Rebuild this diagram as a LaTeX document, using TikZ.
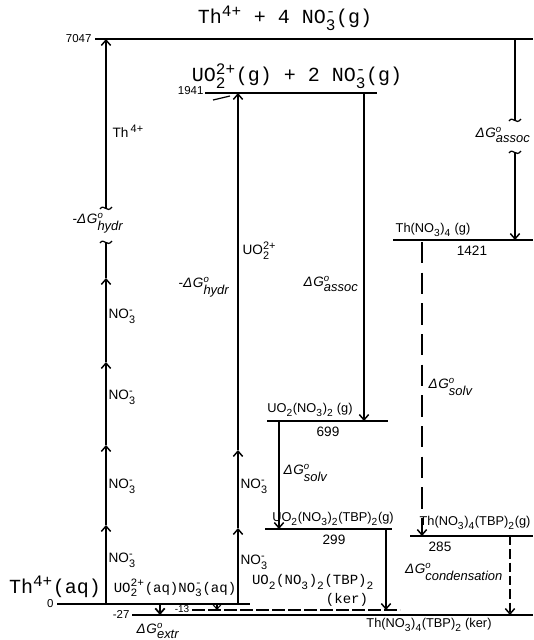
\documentclass[tikz,border=0pt]{standalone}
\usepackage{amsmath}
\usepackage{fontspec}
\setmainfont{Liberation Sans}
\newfontfamily\tw{Liberation Mono}
\renewcommand{\defaultscriptratio}{.8}
\renewcommand{\defaultscriptscriptratio}{.6}
\usetikzlibrary{arrows.meta}
\newcommand{\sbsp}[2]{\ensuremath{_{\text{#1}}^{\text{#2}}}}
\newcommand{\dG}[1]{{\itshape Δ\kern0.5pt G\ensuremath{^{\text{\fontsize{7.2}{8}\selectfont o}}_{\text{\fontsize{9.7}{11}\selectfont\itshape #1}}}}}
\tikzset{
  squig/.pic={\draw[line width=0.9pt] (-6,1) .. controls (-2,-5) and (1,6) .. (6,-1);}
}
\begin{document}
\begin{tikzpicture}[x=0.75pt,y=-0.75pt,
  lvl/.style={line width=1.35pt},
  ln/.style={line width=1.1pt},
  arr/.style={line width=1.1pt,-{Straight Barb[length=4pt,width=7pt]}},
  hw/.style={font=\fontsize{10.2}{12}\selectfont, inner sep=1pt},
  hws/.style={font=\fontsize{9.6}{11}\selectfont, inner sep=1pt},
  num/.style={font=\fontsize{8.6}{10}\selectfont, inner sep=1pt},
  ttbig/.style={font=\tw\fontsize{15}{17}\selectfont, inner sep=0pt},
  ttsmall/.style={font=\tw\fontsize{10.5}{12}\selectfont, inner sep=0pt}]
\useasboundingbox (0,0) rectangle (533,640);

% ---- level coordinates ----
\coordinate (T0) at (95,39);   \coordinate (T1) at (533,39);
\coordinate (U0) at (205,93);  \coordinate (U1) at (377,93);
\coordinate (A0) at (393,240); \coordinate (A1) at (533,240);
\coordinate (B0) at (267,421); \coordinate (B1) at (388,421);
\coordinate (C0) at (265,529); \coordinate (C1) at (392,529);
\coordinate (D0) at (410,536); \coordinate (D1) at (533,536);
\coordinate (Z0) at (57,604);  \coordinate (Z1) at (250,604);
\coordinate (M0) at (192,610); \coordinate (M1) at (400,610);
\coordinate (K0) at (132,615); \coordinate (K1) at (533,615);

\draw[lvl] (T0) -- (T1);
\draw[lvl] (U0) -- (U1);
\draw[lvl] (A0) -- (A1);
\draw[lvl] (B0) -- (B1);
\draw[lvl] (C0) -- (C1);
\draw[lvl] (D0) -- (D1);
\draw[lvl] (Z0) -- (Z1);
\draw[lvl] (K0) -- (K1);
\draw[line width=0.9pt, dash pattern=on 10pt off 2pt] (M0) -- (M1);
\draw[line width=0.9pt] (213,100) -- (230,96);

% ---- titles and level labels ----
\node[ttbig] (title1) at (285,18) {Th\textsuperscript{4+} + 4 NO\sbsp{3}{-}(g)};
\node[ttbig] (title2) at (297,76) {UO\sbsp{2}{2+}(g) + 2 NO\sbsp{3}{-}(g)};
\node[num, anchor=east] (v7047) at (93,39) {7047};
\node[num, anchor=east] (v1941) at (205,91) {1941};
\node[num, anchor=east] (v0) at (55,604) {0};
\node[num, anchor=east] (v27) at (131,614) {-27};
\node[font=\fontsize{7.5}{9}\selectfont, inner sep=0.5pt, fill=white] (v13) at (182,609) {-13};

\node[hws] (thg) at (433,230) {Th(NO\sbsp{3}{})\sbsp{4}{} (g)};
\node[hw] (v1421) at (472,251) {1421};
\node[hws] (uog) at (310,410) {UO\sbsp{2}{}(NO\sbsp{3}{})\sbsp{2}{} (g)};
\node[hw] (v699) at (328,432) {699};
\node[hws] (uotbp) at (333,519) {UO\sbsp{2}{}(NO\sbsp{3}{})\sbsp{2}{}(TBP)\sbsp{2}{}(g)};
\node[hw] (v299) at (334,540) {299};
\node[hws] (thtbp) at (475,523) {Th(NO\sbsp{3}{})\sbsp{4}{}(TBP)\sbsp{2}{}(g)};
\node[hw] (v285) at (440,547) {285};

\node[ttbig] (thaq) at (55,587) {Th\textsuperscript{4+}(aq)};
\node[ttsmall] (uoaq) at (175,588) {UO\sbsp{2}{2+}(aq)NO\sbsp{3}{-}(aq)};
\node[ttsmall] (uoker) at (313,582) {UO\sbsp{2}{}(NO\sbsp{3}{})\sbsp{2}{}(TBP)\sbsp{2}{}};
\node[ttsmall] (uoker2) at (347,600) {(ker)};
\node[hws] (thker) at (429,625) {Th(NO\sbsp{3}{})\sbsp{4}{}(TBP)\sbsp{2}{} (ker)};

% ---- left column (Th4+) ----
\coordinate (L0) at (106,604);
\coordinate (La) at (106,525);
\coordinate (Lb) at (106,445);
\coordinate (Lc) at (106,362);
\coordinate (Ld) at (106,278);
\coordinate (Le) at (106,242);
\coordinate (Lf) at (106,208);
\coordinate (Lt) at (106,39);
\draw[arr] (L0) -- (La);
\draw[arr] (La) -- (Lb);
\draw[arr] (Lb) -- (Lc);
\draw[arr] (Lc) -- (Ld);
\draw[ln] (Ld) -- (Le);
\draw[arr] (Lf) -- (Lt);
\pic at (Le) {squig};
\pic at (Lf) {squig};
\node[hw, anchor=west] (th4) at (111,131) {Th\,\textsuperscript{4+}};
\node[hw] (hydr1) at (98,223) {-\dG{hydr}};
\node[hw, anchor=west] (no1) at (107,316) {NO\sbsp{3}{-}};
\node[hw, anchor=west] (no2) at (107,397) {NO\sbsp{3}{-}};
\node[hw, anchor=west] (no3) at (107,486) {NO\sbsp{3}{-}};
\node[hw, anchor=west] (no4) at (107,560) {NO\sbsp{3}{-}};

% ---- UO2 column ----
\coordinate (P0) at (238,604);
\coordinate (Pa) at (238,528);
\coordinate (Pb) at (238,450);
\coordinate (Pt) at (238,93);
\draw[arr] (P0) -- (Pa);
\draw[arr] (Pa) -- (Pb);
\draw[arr] (Pb) -- (Pt);
\node[hw, anchor=west] (uo22) at (241,251) {UO\sbsp{2}{2+}};
\node[hw] (hydr2) at (204,287) {-\dG{hydr}};
\node[hw, anchor=west] (no5) at (239,486) {NO\sbsp{3}{-}};
\node[hw, anchor=west] (no6) at (239,562) {NO\sbsp{3}{-}};

% ---- other connectors ----
\draw[arr] (364,93) -- (364,421);
\node[hw] (assoc1) at (331,284) {\dG{assoc}};
\draw[arr] (279,421) -- (279,529);
\node[hw, anchor=west] (solv1) at (282,473) {\dG{solv}};
\draw[arr] (386,529) -- (386,610);

\coordinate (R0) at (515,39);
\coordinate (Ra) at (515,120);
\coordinate (Rb) at (515,152);
\coordinate (Rt) at (515,240);
\draw[ln] (R0) -- (Ra);
\draw[arr] (Rb) -- (Rt);
\pic at (Ra) {squig};
\pic at (Rb) {squig};
\node[hw, anchor=east] (assoc2) at (532,135) {\dG{assoc}};

\draw[arr, dash pattern=on 16pt off 7pt] (422,242) -- (422,536);
\node[hw, anchor=west] (solv2) at (427,387) {\dG{solv}};
\draw[arr, dash pattern=on 7pt off 3pt] (510,536) -- (510,615);
\node[hw] (cond) at (454,572) {\dG{condensation}};

\draw[arr, line width=1.3pt] (160,604) -- (160,615);
\node[hw] (extr) at (158,631) {\dG{extr}};
\draw[arr, line width=0.8pt] (217,604) -- (217,610);
\end{tikzpicture}
\end{document}
